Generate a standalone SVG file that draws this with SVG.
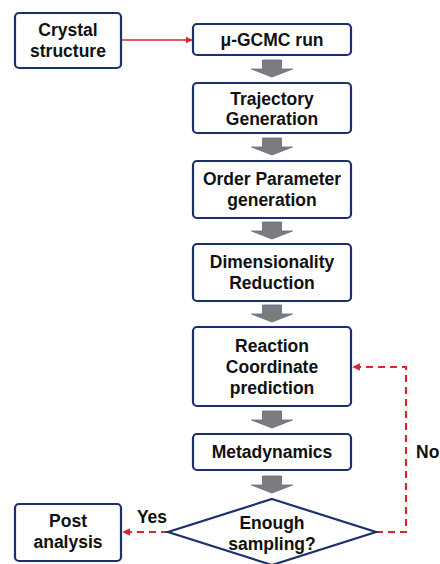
<svg xmlns="http://www.w3.org/2000/svg" width="440" height="564" viewBox="0 0 440 564">
<defs>
<style>
.box{fill:#fff;stroke:#1c2f6e;stroke-width:2.2}
.t{font-family:"Liberation Sans",Arial,sans-serif;font-weight:bold;font-size:17.5px;fill:#111;text-anchor:middle}
.blk{fill:#7c7c7c;stroke:#5d6b8a;stroke-width:0.8}
.red{fill:none;stroke:#d42a2a;stroke-width:1.6}
.dash{fill:none;stroke:#d42a2a;stroke-width:2.2;stroke-dasharray:7,5}
</style>
<marker id="ah" viewBox="0 0 10 10" refX="9" refY="5" markerWidth="4.5" markerHeight="4.5" orient="auto" markerUnits="strokeWidth">
<path d="M0,0 L10,5 L0,10 z" fill="#d42a2a"/>
</marker>
<marker id="ah2" viewBox="0 0 10 10" refX="9" refY="5" markerWidth="3.5" markerHeight="3.5" orient="auto" markerUnits="strokeWidth">
<path d="M0,0 L10,5 L0,10 z" fill="#d42a2a"/>
</marker>
<path id="blkarrow" d="M-9.5,0 L9.5,0 L9.5,9 L20.5,9 L0,17 L-20.5,9 L-9.5,9 Z"/>
</defs>
<g id="connectors">
<line class="red" x1="121" y1="40" x2="192" y2="40" marker-end="url(#ah)"/>
<use href="#blkarrow" class="blk" x="272" y="60"/>
<use href="#blkarrow" class="blk" x="272" y="138"/>
<use href="#blkarrow" class="blk" x="272" y="222"/>
<use href="#blkarrow" class="blk" x="272" y="305"/>
<use href="#blkarrow" class="blk" x="272" y="411"/>
<use href="#blkarrow" class="blk" x="272" y="476"/>
<polyline class="dash" points="376,532 406,532 406,367 353,367" marker-end="url(#ah2)"/>
<line class="dash" x1="168" y1="532" x2="123" y2="532" marker-end="url(#ah2)"/>
<text class="t" x="152" y="523">Yes</text>
<text class="t" x="416" y="458" style="text-anchor:start">No</text>
</g>
<g id="crystal">
<rect class="box" x="15" y="13" width="106" height="55" rx="4"/>
<text class="t" x="68" y="36">Crystal</text>
<text class="t" x="68" y="57">structure</text>
</g>
<g id="gcmc">
<rect class="box" x="193" y="24" width="158" height="31" rx="4"/>
<text class="t" x="272" y="45.5">μ-GCMC run</text>
</g>
<g id="trajectory">
<rect class="box" x="193" y="83" width="158" height="50" rx="4"/>
<text class="t" x="272" y="104.5">Trajectory</text>
<text class="t" x="272" y="124.5">Generation</text>
</g>
<g id="order">
<rect class="box" x="193" y="161" width="158" height="57" rx="4"/>
<text class="t" x="272" y="185">Order Parameter</text>
<text class="t" x="272" y="206">generation</text>
</g>
<g id="dimensionality">
<rect class="box" x="193" y="244" width="158" height="57" rx="4"/>
<text class="t" x="272" y="268">Dimensionality</text>
<text class="t" x="272" y="289">Reduction</text>
</g>
<g id="reaction">
<rect class="box" x="193" y="327" width="158" height="79" rx="4"/>
<text class="t" x="272" y="352">Reaction</text>
<text class="t" x="272" y="373">Coordinate</text>
<text class="t" x="272" y="393.5">prediction</text>
</g>
<g id="metadynamics">
<rect class="box" x="193" y="434" width="158" height="36" rx="4"/>
<text class="t" x="272" y="458">Metadynamics</text>
</g>
<g id="decision">
<polygon class="box" points="272,499 376,532 272,565 168,532"/>
<text class="t" x="272" y="529">Enough</text>
<text class="t" x="272" y="550">sampling?</text>
</g>
<g id="post">
<rect class="box" x="15" y="504" width="106" height="57" rx="4"/>
<text class="t" x="68" y="527">Post</text>
<text class="t" x="68" y="548">analysis</text>
</g>
</svg>
